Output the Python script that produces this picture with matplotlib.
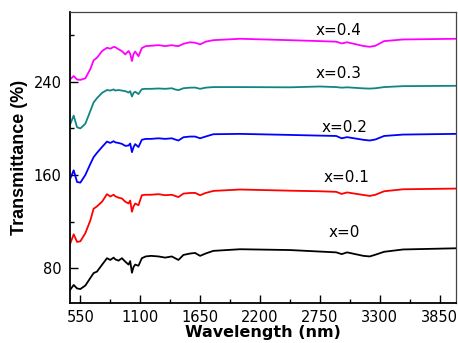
import matplotlib
matplotlib.use('Agg')
import matplotlib.pyplot as plt
from matplotlib.ticker import MultipleLocator

# wavelength grid (nm), shared by all curves
wavelength = [458, 489, 520, 550, 596, 642, 672, 703, 749, 795, 825, 856, 871, 901,
              932, 963, 993, 1008, 1024, 1039, 1054, 1084, 1115, 1150, 1200, 1268,
              1329, 1390, 1420, 1451, 1497, 1558, 1604, 1650, 1700, 1772, 2017, 2475,
              2750, 2900, 2950, 3000, 3150, 3208, 3260, 3340, 3514, 3997]

# transmittance (%) for each composition (vertically offset as in the original)
t_x0 = [61.5, 65.5, 62.5, 62, 65, 71.5, 75.7, 77, 82.8, 88.5, 87, 89, 87.5, 86.4,
        88.5, 85.5, 83, 86, 76, 81, 83, 82, 88.5, 90, 90.5, 90,
        89, 90, 88.5, 87, 91.3, 92.5, 93, 90.5, 92.5, 94.8, 96.2, 95.5,
        94.2, 93.5, 92, 93.5, 90.5, 90, 91.5, 94, 96, 97]
t_x01 = [101.3, 109, 102.5, 103, 110, 121, 131, 133, 137, 143.5, 141.5, 143, 141.7, 140.5,
         139.8, 137, 135.5, 138, 128.4, 133, 135.5, 134, 142.6, 143, 143, 143.5,
         142.6, 143, 142, 141, 144, 144.5, 144.6, 142.6, 144.5, 146.3, 147.5, 146.5,
         146, 145.5, 143.7, 145, 142.8, 142, 143, 146, 147.7, 148.3]
t_x02 = [157, 164, 154, 153.4, 160, 169.5, 175.3, 179, 184, 188.7, 187.5, 189, 188, 187.5,
         186.7, 185, 185.3, 187, 179.6, 184, 186.5, 184, 190.2, 191, 191, 191.5,
         191, 191.5, 190.5, 189.6, 192.4, 193, 193, 191.5, 193, 195, 195.3, 194.4,
         193.8, 193.5, 191.5, 192.5, 190.2, 189.6, 190.5, 193.5, 194.7, 195.3]
t_x03 = [203.8, 211, 201, 200, 204, 215, 222.3, 226, 230.5, 233, 232.5, 233.5, 232.5, 233,
         232.5, 232, 230.8, 232, 227.4, 230.5, 231.5, 229.5, 233.7, 234, 234, 234.3,
         234, 234.5, 233.5, 232.9, 234.5, 235, 235.1, 234, 235, 235.5, 235.5, 235.3,
         236, 235.5, 235, 235.3, 234.4, 234.2, 234.5, 235.5, 236.3, 236.6]
t_x04 = [242.3, 245, 242, 241.7, 243, 251, 258.5, 260.7, 266.4, 269.3, 268.5, 270, 269.8, 268,
         266.4, 263.6, 266.5, 264, 257.9, 264, 266, 262, 269, 270.7, 271, 271.5,
         270.7, 271.5, 271, 270.7, 272.7, 274, 273.6, 272.2, 274.5, 275.8, 277, 275.8,
         275, 274.5, 273, 274, 270.8, 270.1, 271, 275, 276.4, 277]

series = [t_x0, t_x01, t_x02, t_x03, t_x04]
colors = ['black', 'red', 'blue', '#118585', 'magenta']
labels = ['x=0', 'x=0.1', 'x=0.2', 'x=0.3', 'x=0.4']
label_x = [2970, 2995, 2980, 2925, 2925]
label_y = [110.4, 158.2, 201, 247.4, 284]

fig = plt.figure(figsize=(4.58, 3.43), dpi=100)
ax = fig.add_axes([0.1528, 0.1166, 0.8428, 0.8484])

for vals, c in zip(series, colors):
    ax.plot(wavelength, vals, color=c, lw=1.3)

for lab, lx, ly in zip(labels, label_x, label_y):
    ax.text(lx, ly, lab, fontsize=11, ha='center', va='center')

ax.set_xlim(455, 4000)
ax.set_ylim(50, 300)
ax.set_xticks([550, 1100, 1650, 2200, 2750, 3300, 3850])
ax.set_yticks([80, 160, 240])
ax.xaxis.set_minor_locator(MultipleLocator(275))
ax.yaxis.set_minor_locator(MultipleLocator(40))
ax.tick_params(which='major', direction='in', length=6, width=1, labelsize=10.5, pad=6)
ax.tick_params(axis='x', which='major', pad=5)
ax.tick_params(which='minor', direction='in', length=3, width=1)
ax.tick_params(top=False, right=False, which='both')

for s in ['left', 'bottom']:
    ax.spines[s].set_linewidth(1.3)
for s in ['top', 'right']:
    ax.spines[s].set_linewidth(0.9)
    ax.spines[s].set_color('#444444')

ax.set_xlabel('Wavelength (nm)', fontsize=11.5, fontweight='bold', labelpad=0)
ax.set_ylabel('Transmittance (%)', fontsize=13, fontweight='bold',
              family='Liberation Sans', labelpad=4)

fig.savefig('out.png', dpi=100)
